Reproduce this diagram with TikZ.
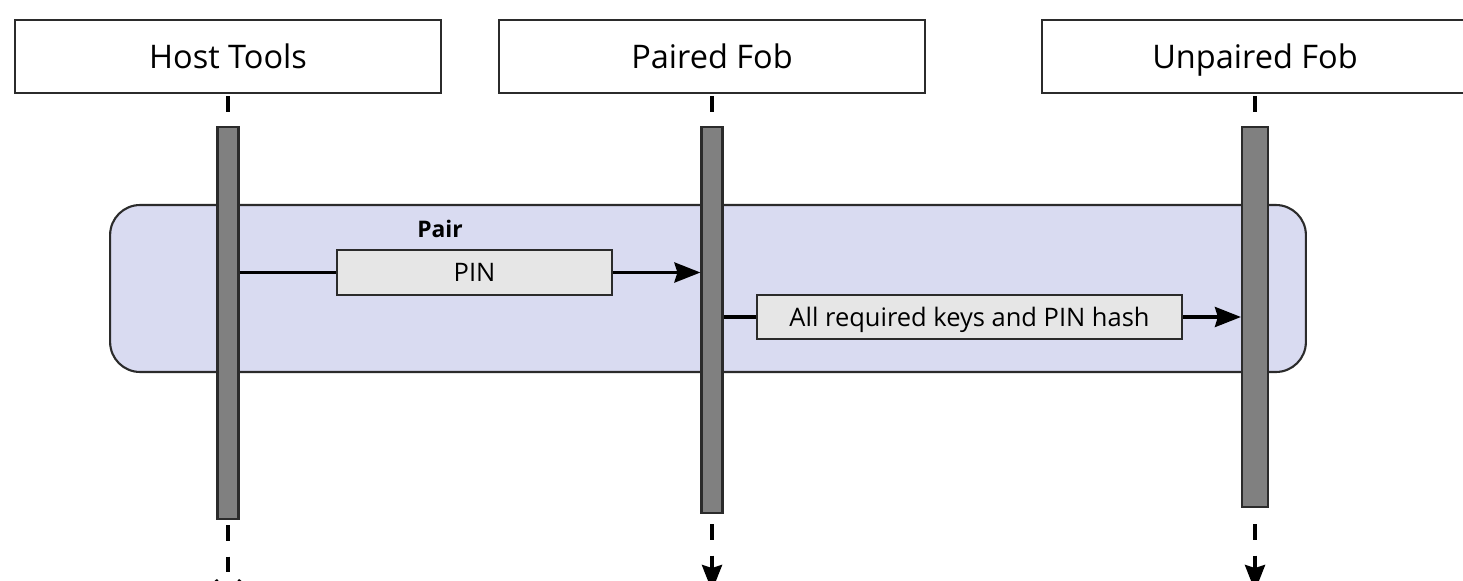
\documentclass[tikz,border=0pt]{standalone}
\usepackage{fontspec}
\setmainfont{Open Sans}
\usepackage{xcolor}
\usetikzlibrary{positioning,arrows.meta,calc}
\definecolor{edge}{HTML}{2B2B2B}
\definecolor{framefill}{HTML}{D9DBF1}
\definecolor{barfill}{HTML}{808080}
\definecolor{msgfill}{HTML}{E6E6E6}

\begin{document}
\begin{tikzpicture}[
  x=0.02cm, y=-0.02cm,
  head/.style={draw=edge, line width=1.2pt, fill=white, minimum width=8.52cm, minimum height=1.46cm, inner sep=0pt, text height=18pt, text depth=4.5pt, font=\fontsize{18.5}{22}\selectfont},
  actbar/.style={draw=edge, line width=1.2pt, fill=barfill, minimum width=0.42cm, inner sep=0pt},
  msg/.style={draw=edge, line width=1.2pt, fill=msgfill, minimum height=0.89cm, inner sep=0pt, text height=14pt, text depth=3.5pt, font=\fontsize{14.5}{17}\selectfont},
  frame/.style={draw=edge, line width=1.2pt, fill=framefill, rounded corners=0.6cm, inner sep=0pt},
  link/.style={line width=2.1pt},
  tip/.style={-{Stealth[length=5.2mm, width=4mm, inset=0.6mm]}},
  arr/.style={link, tip},
  life/.style={line width=2.1pt, dash pattern=on 0.31cm off 0.32cm},
  node distance=0.64cm]
\clip (0,0) rectangle (1463,581);
% participants
\node[head] (host) at (228,56.5) {Host Tools};
\node[head] (paired) at (712,56.5) {Paired Fob};
\node[head] (unpaired) at (1255,56.5) {Unpaired Fob};
% lifeline ends
\coordinate (hostend) at (228,598);
\coordinate (pairedend) at (712,591);
\coordinate (unpairedend) at (1255,591);
% pairing group
\node[frame, minimum width=23.92cm, minimum height=3.34cm] (pairframe) at (708,288.5) {};
\node[font=\bfseries\fontsize{13}{15}\selectfont] (pairlabel) at (440,229) {Pair};
% activation bars
\node[actbar, below=of host, minimum height=7.84cm] (hostbar) {};
\node[actbar, below=of paired, minimum height=7.72cm] (pairedbar) {};
\node[actbar, below=of unpaired, minimum height=7.6cm, minimum width=0.52cm] (unpairedbar) {};
% lifelines
\draw[life, shorten <=0.04cm] (host.south) -- (hostbar.north);
\draw[life, shorten <=0.04cm] (paired.south) -- (pairedbar.north);
\draw[life, shorten <=0.04cm] (unpaired.south) -- (unpairedbar.north);
\draw[life, shorten <=0.1cm, -{Straight Barb[length=3mm, width=5mm]}] (hostbar.south) -- (hostend);
\draw[life, shorten <=0.2cm, tip] (pairedbar.south) -- (pairedend);
\draw[life, shorten <=0.32cm, tip] (unpairedbar.south) -- (unpairedend);
% messages
\node[msg, minimum width=5.5cm] (pin) at (474.5,272.5) {PIN};
\node[msg, minimum width=8.5cm] (keys) at (969.5,317) {All required keys and PIN hash};
\draw[link] (hostbar.east |- pin) -- (pin.west);
\draw[arr] (pin.east) -- (pin.east -| pairedbar.west);
\draw[link] (pairedbar.east |- keys) -- (keys.west);
\draw[arr] (keys.east) -- (keys.east -| unpairedbar.west);
\end{tikzpicture}
\end{document}
